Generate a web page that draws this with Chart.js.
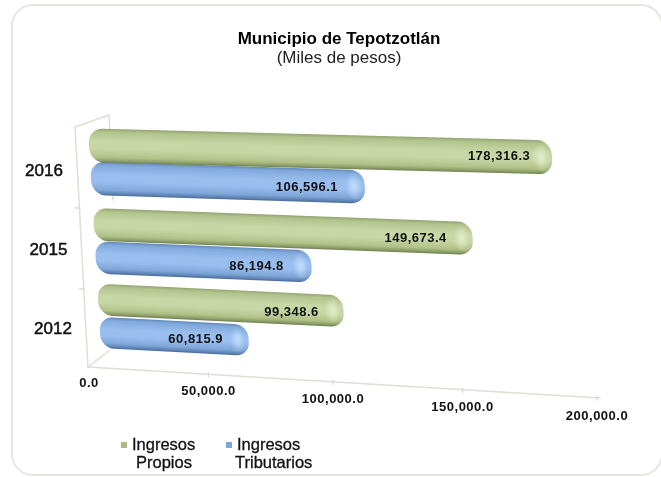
<!DOCTYPE html>
<html><head><meta charset="utf-8">
<style>
html,body{margin:0;padding:0;background:#fff;width:661px;height:477px;overflow:hidden}
#card{position:absolute;left:11px;top:4px;width:652px;height:472px;border:2px solid #e6e6e0;border-radius:22px;box-sizing:border-box}
canvas{position:absolute;left:0;top:0;filter:blur(0.5px)}
</style>
<script src="https://cdn.jsdelivr.net/npm/chart.js@4/dist/chart.umd.min.js"></script>
</head><body>
<div id="card"></div>
<canvas id="c" width="661" height="477"></canvas>
<script>
const titleText = 'Municipio de Tepotzotlán';
const subtitleText = '(Miles de pesos)';
const categories = ['2016', '2015', '2012'];
const seriesNames = ['Ingresos Propios', 'Ingresos Tributarios'];
const ingresosPropios = [178316.3, 149673.4, 99348.6];
const ingresosTributarios = [106596.1, 86194.8, 60815.9];
const axisMax = 200000;
const axisStep = 50000;

const FONT = '"Liberation Sans", Arial, sans-serif';
const greenStops = [[0,'#93a472'],[.1,'#b2c48d'],[.38,'#c8d7a6'],[.6,'#c7d6a4'],[.84,'#b0c188'],[.94,'#8d9e68'],[1,'#6f7f52']];
const blueStops = [[0,'#6289ba'],[.1,'#82a9dc'],[.38,'#99bfef'],[.6,'#98bdee'],[.84,'#7fa6d9'],[.94,'#5f84b6'],[1,'#4a6a98']];
const seriesStyle = [{stops:greenStops, cap:'rgba(232,240,208,0.8)', mark:'#a9bb7e'},
                     {stops:blueStops, cap:'rgba(200,226,252,0.8)', mark:'#7ea6d8'}];

// Oblique view of the 3-D chart: how each bar's row is projected.
const view = {
  rowNudge:[0,2,0],
  originX:y=>89+0.059*(y-145),
  pxPerK:y=>2.597-0.00082*(y-145),
  slope:y=>0.026+0.00014*(y-145),
  thick:y=>34-0.015*(y-145),
  shear:0.059,
  labelInset:[[53,57,52],[58,55,53]],
  labelDrop:[[0,2,4],[2,2,2]]
};
const floorAt = t => ({x:-1+4*t-40*t*(1-t), y:383+33*t});

function fmt(v){return v.toLocaleString('en-US',{minimumFractionDigits:1,maximumFractionDigits:1});}

function barGeom(el,i,xs){
  const sy = el.y + view.rowNudge[i];
  const len = (el.x - xs.left) / (xs.width/(axisMax/1000)) * view.pxPerK(sy);
  return {sy,len,h:view.thick(sy),s:view.slope(sy),x0:view.originX(sy)};
}

function drawBar(ctx, el, i, ds, xs){
  const {sy,len,h,s,x0} = barGeom(el,i,xs);
  const st = seriesStyle[ds];
  ctx.save();
  ctx.translate(x0, sy);
  ctx.transform(1, s, view.shear, 1, 0, 0);
  const g = ctx.createLinearGradient(0,-h/2,0,h/2);
  st.stops.forEach(p=>g.addColorStop(p[0],p[1]));
  const r = h*0.42;
  ctx.beginPath(); ctx.roundRect(0,-h/2,len,h,r); ctx.fillStyle = g; ctx.fill();
  ctx.clip();
  ctx.save();
  ctx.translate(len-11,0); ctx.scale(0.6,1);
  const c = ctx.createRadialGradient(0,0,1,0,0,h*0.42);
  c.addColorStop(0,st.cap); c.addColorStop(1,st.cap.replace(/[\d.]+\)$/,'0)'));
  ctx.fillStyle = c; ctx.fillRect(-h,-h/2,2*h,h);
  ctx.restore();
  ctx.restore();
}

const projection = {
  id:'projection',
  beforeDatasetsDraw(chart){
    // wall and floor of the 3-D frame
    const ctx = chart.ctx, xs = chart.scales.x;
    const fl = v => {const t=v/axisMax; return {x:xs.getPixelForValue(v)+floorAt(t).x, y:367+31*t};};
    ctx.save();
    ctx.strokeStyle='#dcdfd2'; ctx.lineWidth=1.5; ctx.lineCap='round';
    const line=(a,b,c,d)=>{ctx.beginPath();ctx.moveTo(a,b);ctx.lineTo(c,d);ctx.stroke();};
    const f0=fl(0), f1=fl(axisMax);
    line(75,127,f0.x-1,f0.y);
    line(75,127,109,115);
    line(f0.x-1,f0.y,110,350);
    line(109,115,113,200);
    line(f0.x-1,f0.y,f1.x+3,f1.y);
    line(75,208,80,208); line(79,289,84,289);
    for(let v=axisStep;v<=axisMax;v+=axisStep){const p=fl(v); line(p.x,p.y-2,p.x,p.y+2);}
    ctx.restore();
  },
  beforeDatasetDraw(chart,args){
    const ctx=chart.ctx, xs=chart.scales.x;
    args.meta.data.forEach((el,i)=>drawBar(ctx,el,i,args.index,xs));
    return false;
  },
  afterDatasetsDraw(chart){
    const ctx=chart.ctx, xs=chart.scales.x, ys=chart.scales.y;
    ctx.save();
    ctx.textBaseline='middle'; ctx.textAlign='center'; ctx.fillStyle='#111';
    ctx.font='bold 13px '+FONT; ctx.letterSpacing='0.5px';
    // value labels
    chart.data.datasets.forEach((d,ds)=>{
      chart.getDatasetMeta(ds).data.forEach((el,i)=>{
        const g=barGeom(el,i,xs), lx=g.len-view.labelInset[ds][i];
        ctx.fillText(fmt(d.data[i]),g.x0+lx,g.sy+g.s*lx+view.labelDrop[ds][i]);
      });
    });
    // value-axis tick labels along the floor
    for(let v=0;v<=axisMax;v+=axisStep){
      const o=floorAt(v/axisMax);
      ctx.fillText(fmt(v),xs.getPixelForValue(v)+o.x,o.y);
    }
    ctx.letterSpacing='0px';
    // category labels
    ctx.font='17px '+FONT; ctx.fillStyle='#111'; ctx.strokeStyle='#111'; ctx.lineWidth=0.5;
    categories.forEach((c,i)=>{
      const y=ys.getPixelForValue(i);
      const px=44+4.5*i, py=y+9+2*i;
      ctx.fillText(c,px,py); ctx.strokeText(c,px,py);
    });
    // legend, wrapped on two lines as in the source
    ctx.font='16.5px '+FONT; ctx.textAlign='left'; ctx.lineWidth=0.3;
    const lx=[120,225];
    seriesNames.forEach((n,i)=>{
      const w=n.split(' ');
      ctx.fillStyle=seriesStyle[i].mark; ctx.fillRect(lx[i]+1,442,6,6);
      ctx.fillStyle='#111';
      ctx.fillText(w[0],lx[i]+12,445); ctx.strokeText(w[0],lx[i]+12,445);
      const wx=lx[i]+(i?10:16);
      ctx.fillText(w[1],wx,463); ctx.strokeText(w[1],wx,463);
    });
    ctx.restore();
  }
};

new Chart(document.getElementById('c'),{
  type:'bar',
  data:{labels:categories,datasets:[
    {label:seriesNames[0],data:ingresosPropios,backgroundColor:seriesStyle[0].mark},
    {label:seriesNames[1],data:ingresosTributarios,backgroundColor:seriesStyle[1].mark}
  ]},
  options:{
    indexAxis:'y',responsive:false,animation:false,
    datasets:{bar:{categoryPercentage:0.857,barPercentage:1}},
    layout:{padding:{left:84,right:67,top:30,bottom:122.5}},
    plugins:{
      legend:{display:false},tooltip:{enabled:false},
      title:{display:true,text:titleText,color:'#000',font:{family:FONT,size:17,weight:'bold',lineHeight:1.1},padding:{top:0,bottom:0}},
      subtitle:{display:true,text:subtitleText,color:'#222',font:{family:FONT,size:17,weight:'normal',lineHeight:1.1},padding:{top:0,bottom:56}}
    },
    scales:{
      x:{min:0,max:axisMax,display:false,ticks:{stepSize:axisStep}},
      y:{type:'category',display:true,grid:{display:false},border:{display:false},ticks:{display:false},afterFit(s){s.width=6;}}
    }
  },
  plugins:[projection]
});
</script>
</body></html>
